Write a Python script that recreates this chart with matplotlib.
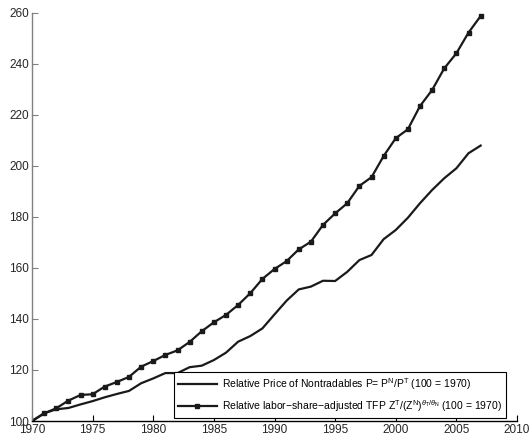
import numpy as np
import matplotlib
matplotlib.use("Agg")
import matplotlib.pyplot as plt

plt.rcParams['font.family'] = ['Liberation Sans', 'DejaVu Sans']
plt.rcParams['mathtext.fontset'] = 'custom'
plt.rcParams['mathtext.rm'] = 'Liberation Sans'
plt.rcParams['mathtext.it'] = 'Liberation Sans:italic'

years = np.arange(1970, 2008)
price = [100, 103.0, 104.6, 105.1, 106.5, 107.8, 109.3, 110.6, 111.8, 114.8,
         116.7, 118.8, 118.8, 121.1, 121.7, 123.9, 126.8, 131.1, 133.3, 136.3,
         141.8, 147.2, 151.6, 152.7, 155.0, 154.9, 158.5, 163.1, 165.1, 171.3,
         174.9, 179.7, 185.4, 190.6, 195.2, 199.1, 205.0, 208.0]
tfp = [100, 103.0, 105.0, 108.0, 110.2, 110.5, 113.5, 115.3, 117.3, 121.3,
       123.5, 125.9, 127.7, 131.0, 135.2, 138.7, 141.6, 145.5, 150.1, 155.7,
       159.6, 162.7, 167.3, 170.3, 176.9, 181.4, 185.4, 192.2, 195.6, 203.9,
       210.9, 214.4, 223.5, 229.8, 238.3, 244.2, 252.3, 258.8]

label_price = r"Relative Price of Nontradables P= P$^\mathrm{N}$/P$^\mathrm{T}$ (100 = 1970)"
label_tfp = (r"Relative labor$-$share$-$adjusted TFP Z$^\mathrm{T}$/(Z$^\mathrm{N}$)"
             r"$^{\theta_\mathrm{T}/\theta_\mathrm{N}}$ (100 = 1970)")

fig = plt.figure(figsize=(5.32, 4.41), dpi=100)
ax = fig.add_axes([32/532, 1 - 421/441, (517-32)/532, (421-13)/441])

ax.plot(years, price, color='#1a1a1a', lw=1.6, label=label_price)
ax.plot(years, tfp, color='#1a1a1a', lw=1.6, marker='s', ms=2.2, label=label_tfp)

ax.set_xlim(1970, 2010)
ax.set_ylim(100, 260)
ax.set_xticks(np.arange(1970, 2011, 5))
ax.set_yticks(np.arange(100, 261, 20))
ax.spines['top'].set_visible(False)
ax.spines['right'].set_visible(False)
ax.spines['left'].set_color('#808080')
ax.spines['left'].set_linewidth(1.0)
ax.spines['bottom'].set_linewidth(1.0)
ax.tick_params(direction='in', length=4, labelsize=8.5, labelcolor='#262626', pad=2)
ax.tick_params(axis='y', colors='#808080', labelcolor='#262626', pad=2)

leg = ax.legend(loc='lower right', bbox_to_anchor=(0.977, 0.007), borderaxespad=0,
                fontsize=7.5, frameon=True, fancybox=False, edgecolor='black',
                framealpha=1, handlelength=3.7, borderpad=0.4, labelspacing=0.6,
                handletextpad=0.5)
leg.get_frame().set_linewidth(0.8)

fig.savefig("out.png", dpi=100)
